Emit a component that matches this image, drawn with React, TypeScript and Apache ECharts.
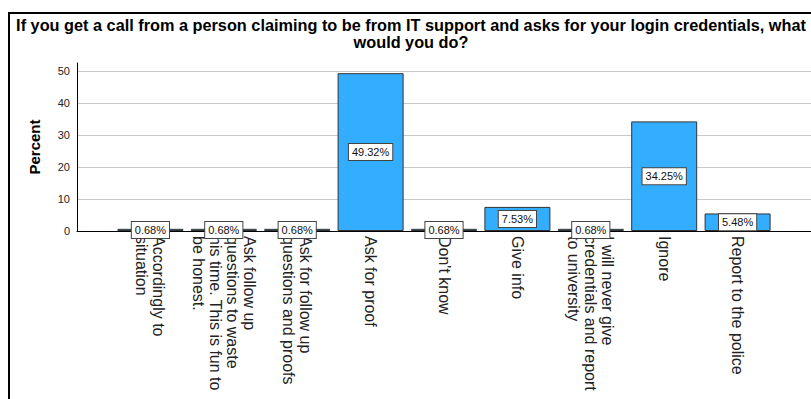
import React, { useEffect, useRef } from "react";
import * as echarts from "echarts";

const titleText =
  "If you get a call from a person claiming to be from IT support and asks for your login credentials, what\nwould you do?";
const categories = [
  "Accordingly to\nsituation",
  "Ask follow up\nquestions to waste\nhis time. This is fun to\nbe honest.",
  "Ask for follow up\nquestions and proofs",
  "Ask for proof",
  "Don't know",
  "Give info",
  "I will never give\ncredentials and report\nto university",
  "Ignore",
  "Report to the police",
];
const percents = [0.68, 0.68, 0.68, 49.32, 0.68, 7.53, 0.68, 34.25, 5.48];
const yTicks = [0, 10, 20, 30, 40, 50];

const FONT = 'Arial, "Liberation Sans", sans-serif';

export default function App() {
  const ref = useRef<HTMLDivElement>(null);
  useEffect(() => {
    if (!ref.current) return;
    const chart = echarts.init(ref.current, null, { renderer: "svg" });
    const cats = ["", ...categories, ""];
    const data: (number | null)[] = [null, ...percents, null];
    chart.setOption({
      animation: false,
      backgroundColor: "#ffffff",
      graphic: [
        {
          type: "rect",
          shape: { x: 9, y: 13, width: 900, height: 500 },
          style: { fill: "none", stroke: "#000", lineWidth: 2 },
          z: 0,
        },
        {
          type: "text",
          x: 411,
          y: 16,
          style: {
            text: titleText,
            textAlign: "center",
            fontFamily: FONT,
            fontWeight: "bold",
            fontSize: 16.3,
            lineHeight: 17,
            fill: "#000",
          },
          z: 10,
        },
      ],
      grid: { left: 77, right: -2, top: 63, bottom: 168, containLabel: false },
      xAxis: {
        type: "category",
        data: cats,
        boundaryGap: false,
        axisLine: { lineStyle: { color: "#000", width: 1 } },
        axisTick: { show: false },
        splitLine: { show: false },
        axisLabel: {
          interval: 0,
          rotate: -90,
          margin: 5,
          fontFamily: FONT,
          fontSize: 16,
          lineHeight: 17,
          color: "#222",
        },
      },
      yAxis: {
        type: "value",
        min: 0,
        max: 52.5,
        interval: 10,
        name: "Percent",
        nameLocation: "middle",
        nameGap: 35,
        nameTextStyle: { fontFamily: FONT, fontWeight: "bold", fontSize: 15, color: "#000" },
        axisLine: { show: true, lineStyle: { color: "#000", width: 1 } },
        axisTick: { show: false },
        axisLabel: {
          margin: 7,
          fontFamily: FONT,
          fontSize: 11,
          color: "#222",
          showMaxLabel: false,
          formatter: (v: number) => (yTicks.includes(v) ? String(v) : ""),
        },
        splitLine: { show: true, showMaxLine: false, lineStyle: { color: "#c8c8c8", width: 1 } },
      },
      series: [
        {
          type: "bar",
          data,
          barWidth: 66,
          itemStyle: { color: "#33adff", borderColor: "#333", borderWidth: 1 },
          label: {
            show: true,
            position: "inside",
            formatter: (p: any) => p.value.toFixed(2) + "%",
            fontFamily: FONT,
            fontSize: 11,
            color: "#111",
            backgroundColor: "#fff",
            borderColor: "#444",
            borderWidth: 1,
            padding: [3, 3, 2, 3],
          },
          z: 3,
        },
      ],
    });
    return () => chart.dispose();
  }, []);
  return (
    <div
      ref={ref}
      style={{ position: "absolute", left: 0, top: 0, width: 811, height: 399 }}
    />
  );
}
